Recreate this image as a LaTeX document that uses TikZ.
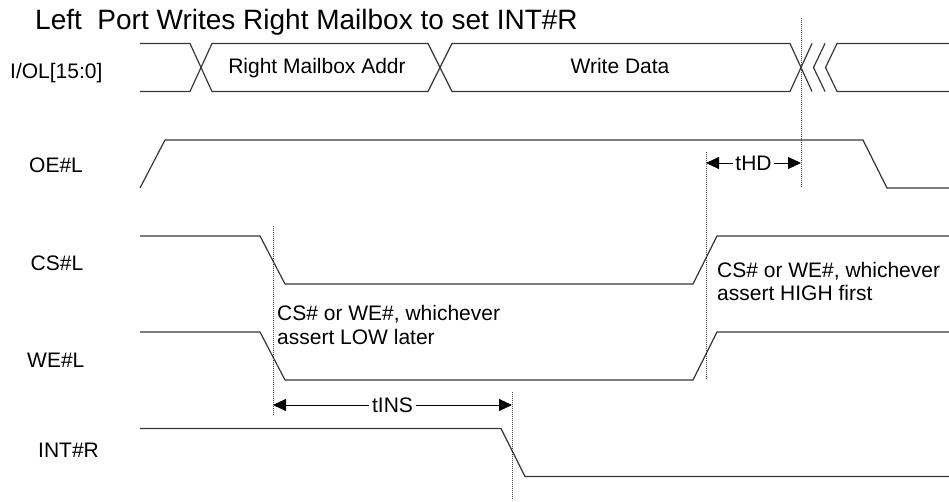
\documentclass[tikz,border=0pt]{standalone}
\usepackage{fontspec}
\setmainfont{Liberation Sans}
\usetikzlibrary{arrows.meta}
\begin{document}
\begin{tikzpicture}[x=1pt,y=-1pt,
  wave/.style={draw=black!78, line width=1.2pt, line join=miter},
  guide/.style={draw=black!75, line width=0.7pt, dash pattern=on 1pt off 1pt},
  dim/.style={draw=black, line width=0.9pt, -{Triangle[length=13pt,width=12pt]}},
  txt/.style={font=\fontsize{21}{25}\selectfont, inner sep=0pt, text=black},
  dimtxt/.style={font=\fontsize{21}{25}\selectfont, inner sep=2.5pt, text=black},
]
\useasboundingbox (0,0) rectangle (949,502);
\fill[white] (0,0) rectangle (949,502);

% title
\node[anchor=base west, font=\fontsize{28}{32}\selectfont, inner sep=0pt] (title) at (35,30)
  {Left\ \ Port Writes Right Mailbox to set INT\#R};

% signal names
\node[txt, anchor=base west] (nio)  at (10,78.5)  {I/OL[15:0]};
\node[txt, anchor=base west] (noe)  at (29,173)   {OE\#L};
\node[txt, anchor=base west] (ncs)  at (30.5,270) {CS\#L};
\node[txt, anchor=base west] (nwe)  at (27,367)   {WE\#L};
\node[txt, anchor=base west] (nint) at (38,457)   {INT\#R};

% address / data bus
\draw[wave] (140,43.5) -- (190,43.5) -- (212,91.5) -- (428,91.5) -- (452,43.5) -- (790,43.5) -- (812,91.5);
\draw[wave] (140,91.5) -- (190,91.5) -- (212,43.5) -- (428,43.5) -- (452,91.5) -- (790,91.5) -- (812,43.5);
\draw[wave] (825,43.5) -- (813.5,67.5) -- (825,91.5);
\draw[wave] (949,43.5) -- (837,43.5) -- (825.5,67.5) -- (837,91.5) -- (949,91.5);
\node[txt, anchor=base] (addr) at (317,73.5) {Right Mailbox Addr};
\node[txt, anchor=base] (data) at (620,73.5) {Write Data};

% control signals
\draw[wave] (140,188) -- (165,140) -- (863,140) -- (887,188) -- (949,188);
\draw[wave] (140,236) -- (260,236) -- (285,284) -- (693,284) -- (717,236) -- (949,236);
\draw[wave] (140,332) -- (260,332) -- (285,380) -- (693,380) -- (717,332) -- (949,332);
\draw[wave] (140,428.5) -- (501,428.5) -- (525,476.5) -- (949,476.5);

% timing reference lines
\coordinate (g1t) at (801,18);   \coordinate (g1b) at (801,188);
\coordinate (g2t) at (706,152);  \coordinate (g2b) at (706,380);
\coordinate (g3t) at (273,226);  \coordinate (g3b) at (273,416);
\coordinate (g4t) at (512,392);  \coordinate (g4b) at (512,500);
\draw[guide] (g1t) -- (g1b);
\draw[guide] (g2t) -- (g2b);
\draw[guide] (g3t) -- (g3b);
\draw[guide] (g4t) -- (g4b);

% tHD
\coordinate (hdl) at (706,163);
\coordinate (hdr) at (801,163);
\node[dimtxt] (thd) at (753.5,163) {tHD};
\draw[dim] (thd.west) -- (hdl);
\draw[dim] (thd.east) -- (hdr);

% tINS
\coordinate (insl) at (273,405);
\coordinate (insr) at (512,405);
\node[dimtxt] (tins) at (392.5,405) {tINS};
\draw[dim] (tins.west) -- (insl);
\draw[dim] (tins.east) -- (insr);

% notes
\node[txt, anchor=base west] (lowa) at (277,320.5) {CS\# or WE\#, whichever};
\node[txt, anchor=base west] (lowb) at (277,344.5) {assert LOW later};
\node[txt, anchor=base west] (higha) at (717,277.5) {CS\# or WE\#, whichever};
\node[txt, anchor=base west] (highb) at (717,300.5) {assert HIGH first};
\end{tikzpicture}
\end{document}
